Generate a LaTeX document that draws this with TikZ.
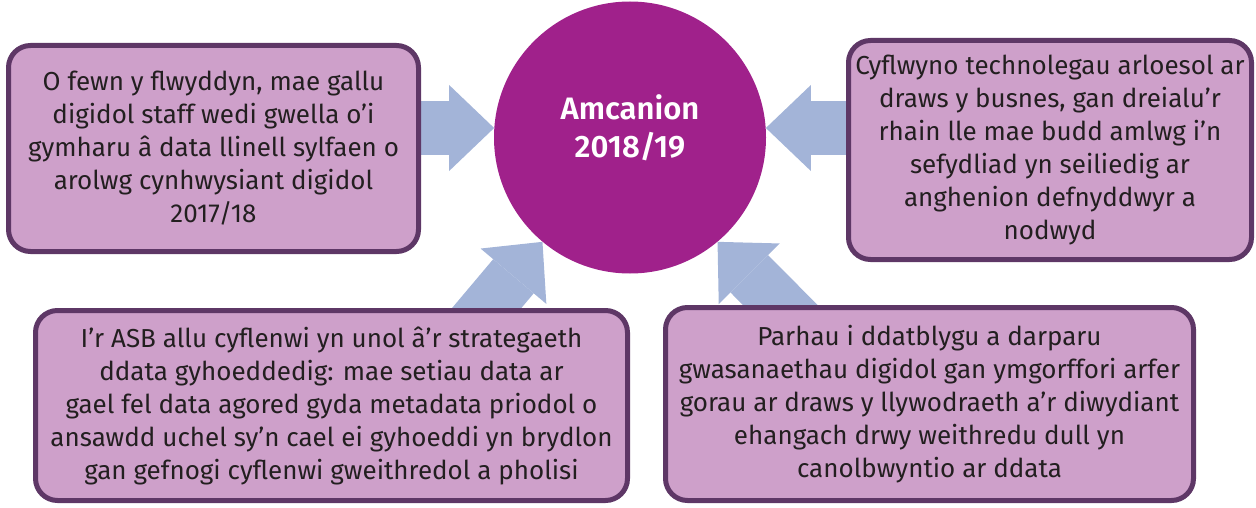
\documentclass[tikz,border=0pt]{standalone}
\usepackage{fontspec}
\setmainfont{Fira Sans}[BoldFont={Fira Sans SemiBold}]
\usetikzlibrary{arrows.meta, calc, backgrounds}
\definecolor{HubPurple}{HTML}{A0218B}
\definecolor{BoxFill}{HTML}{CEA0CA}
\definecolor{BoxLine}{HTML}{5E3766}
\definecolor{ArrowBlue}{HTML}{A3B4D8}
\definecolor{TextDark}{HTML}{231F20}
\tikzset{
  goalbox/.style n args={2}{rectangle, draw=BoxLine, line width=5pt, fill=BoxFill,
                rounded corners=22pt, minimum width=#1, minimum height=#2,
                inner sep=0pt, align=center, text=TextDark,
                font=\fontsize{26}{33}\selectfont},
  goalhub/.style={circle, fill=HubPurple, minimum size=272pt, inner sep=0pt,
                text depth=22pt, align=center, text=white,
                font=\fontsize{31}{38}\selectfont\bfseries},
  fatarrow/.style={line width=53pt, ArrowBlue,
                -{Triangle[length=45pt, width=86pt, line width=0pt]}},
}

\begin{document}
\begin{tikzpicture}[x=1pt, y=-1pt]
    % Coordinate map (pt, y downwards):
    % (hub)   at (630, 137.5)   -- circle, 272 across -- "Amcanion 2018/19"
    % (goal1) at (213.5, 148.5) -- 410 x 206
    % (goal2) at (1050, 150)    -- 403 x 219
    % (goal3) at (331.5, 405.5) -- 592 x 190
    % (goal4) at (929.5, 404)   -- 528 x 193
    \useasboundingbox (0,0) rectangle (1256,508);

    \node[goalhub] (hub) at (630, 137.5) {Amcanion\\2018/19};

    \node[goalbox={410pt}{206pt}] (goal1) at (213.5, 148.5)
      {O fewn y flwyddyn, mae gallu\\digidol staff wedi gwella o’i\\gymharu â data llinell sylfaen o\\arolwg cynhwysiant digidol\\2017/18};
    \node[goalbox={403pt}{219pt}] (goal2) at (1050, 150)
      {Cyflwyno technolegau arloesol ar\\draws y busnes, gan dreialu’r\\rhain lle mae budd amlwg i’n\\sefydliad yn seiliedig ar\\anghenion defnyddwyr a\\nodwyd};
    \node[goalbox={592pt}{190pt}] (goal3) at (331.5, 405.5)
      {I’r ASB allu cyflenwi yn unol â’r strategaeth\\ddata gyhoeddedig: mae setiau data ar\\gael fel data agored gyda metadata priodol o\\ansawdd uchel sy’n cael ei gyhoeddi yn brydlon\\gan gefnogi cyflenwi gweithredol a pholisi};
    \node[goalbox={528pt}{193pt}] (goal4) at (929.5, 404)
      {Parhau i ddatblygu a darparu\\gwasanaethau digidol gan ymgorffori arfer\\gorau ar draws y llywodraeth a’r diwydiant\\ehangach drwy weithredu dull yn\\canolbwyntio ar ddata};

    \begin{scope}[on background layer]
      \draw[fatarrow] (goal1.east |- hub.176) -- (hub.176);
      \draw[fatarrow] (goal2.west |- hub.4) -- (hub.4);
      \draw[fatarrow, shorten <=-30pt] ($(goal3.north west)!0.76!(goal3.north east)$) -- (hub.230);
      \draw[fatarrow, shorten <=-30pt] ($(goal4.north west)!0.22!(goal4.north east)$) -- (hub.310);
    \end{scope}
\end{tikzpicture}
\end{document}
